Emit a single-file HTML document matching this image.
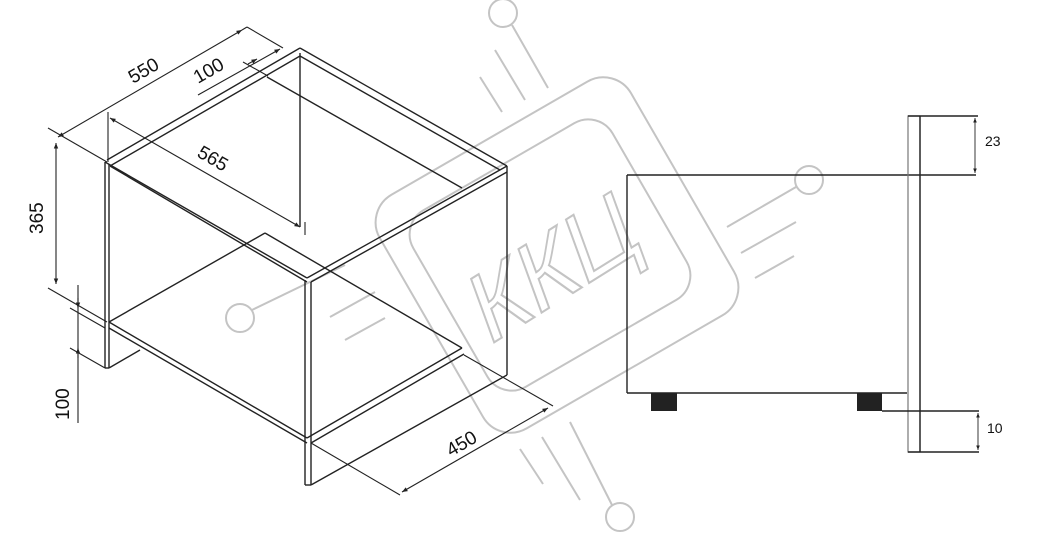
<!DOCTYPE html>
<html><head><meta charset="utf-8"><style>
html,body{margin:0;padding:0;background:#fff;}
svg{display:block;}
text{font-family:"Liberation Sans",Arial,sans-serif;}
</style></head><body>
<svg width="1050" height="533" viewBox="0 0 1050 533" xmlns="http://www.w3.org/2000/svg">
<defs>
<marker id="a" viewBox="0 0 10 10" refX="10" refY="5" markerWidth="7" markerHeight="5" orient="auto-start-reverse"><path d="M0,1 L10,5 L0,9 z" fill="#222"/></marker>
</defs>
<!-- watermark -->
<g stroke="#c4c4c4" stroke-width="2" fill="none">
<rect x="-145" y="-135" width="290" height="270" rx="32" transform="translate(557,255) rotate(-30)"/>
<rect x="-115" y="-102" width="230" height="204" rx="28" transform="translate(550,255) rotate(-30)"/>
<circle cx="503" cy="13" r="14"/><circle cx="809" cy="180" r="14"/><circle cx="620" cy="517" r="14"/><circle cx="240" cy="318" r="14"/>
<line x1="512" y1="25" x2="548" y2="88"/><line x1="495" y1="50" x2="525" y2="100"/><line x1="480" y1="77" x2="502" y2="112"/>
<line x1="796" y1="187" x2="727" y2="227"/><line x1="796" y1="222" x2="741" y2="253"/><line x1="794" y1="256" x2="755" y2="278"/>
<line x1="612" y1="505" x2="570" y2="422"/><line x1="580" y1="500" x2="542" y2="437"/><line x1="543" y1="484" x2="520" y2="449"/>
<line x1="252" y1="310" x2="345" y2="265"/><line x1="330" y1="317" x2="375" y2="292"/><line x1="345" y1="340" x2="385" y2="318"/>
<text x="0" y="0" font-size="96" fill="none" stroke="#c4c4c4" stroke-width="2" text-anchor="middle" transform="translate(565,298) rotate(-32) skewX(-12)">ККЦ</text>
</g>
<!-- cabinet -->
<g stroke="#222" stroke-width="1.4" fill="none">
<line x1="105" y1="162" x2="105" y2="368"/><line x1="109" y1="164" x2="109" y2="368"/>
<line x1="105" y1="368" x2="109" y2="368"/>
<line x1="107" y1="160" x2="300" y2="48"/><line x1="110" y1="166" x2="300" y2="56"/>
<line x1="105" y1="162" x2="307" y2="278"/><line x1="110" y1="166" x2="307" y2="282"/>
<line x1="300" y1="48" x2="507" y2="166"/><line x1="300" y1="56" x2="500" y2="170"/>
<line x1="307" y1="278" x2="507" y2="166"/><line x1="311" y1="282" x2="507" y2="172"/>
<line x1="507" y1="166" x2="507" y2="375"/>
<line x1="305" y1="280" x2="305" y2="485"/><line x1="311" y1="282" x2="311" y2="485"/>
<line x1="305" y1="485" x2="311" y2="485"/>
<line x1="311" y1="485" x2="507" y2="375"/>
<line x1="300" y1="53" x2="300" y2="227"/>
<line x1="267" y1="77" x2="462" y2="188"/>
<line x1="109" y1="322" x2="307" y2="438"/><line x1="109" y1="328" x2="307" y2="443"/>
<line x1="109" y1="322" x2="265" y2="233"/>
<line x1="265" y1="233" x2="462" y2="348"/>
<line x1="307" y1="438" x2="462" y2="348"/><line x1="311" y1="443" x2="464" y2="354"/>
<line x1="109" y1="368" x2="140" y2="350"/>
</g>
<!-- dims -->
<g stroke="#222" stroke-width="1.1" fill="none">
<line x1="48" y1="128" x2="107" y2="162"/>
<line x1="58" y1="137" x2="242" y2="30" marker-start="url(#a)" marker-end="url(#a)"/>
<line x1="242" y1="30" x2="247" y2="27"/>
<line x1="247" y1="27" x2="283" y2="48"/>
<line x1="198" y1="95" x2="280" y2="49" marker-end="url(#a)"/>
<line x1="243" y1="62" x2="268" y2="76"/>
<line x1="257" y1="59" x2="248" y2="64" marker-start="url(#a)"/>
<line x1="108" y1="112" x2="108" y2="162"/>
<line x1="110" y1="118" x2="300" y2="227" marker-start="url(#a)" marker-end="url(#a)"/>
<line x1="305" y1="222" x2="305" y2="235"/>
<line x1="56" y1="143" x2="56" y2="284" marker-start="url(#a)" marker-end="url(#a)"/>
<line x1="48" y1="288" x2="107" y2="322"/>
<line x1="70" y1="308" x2="105" y2="328"/>
<line x1="70" y1="348" x2="105" y2="368"/>
<line x1="78" y1="285" x2="78" y2="423"/>
<line x1="78" y1="298" x2="78" y2="308" marker-end="url(#a)"/>
<line x1="78" y1="358" x2="78" y2="348" marker-end="url(#a)"/>
<line x1="311" y1="443" x2="400" y2="495"/>
<line x1="464" y1="355" x2="553" y2="406"/>
<line x1="402" y1="492" x2="548" y2="408" marker-start="url(#a)" marker-end="url(#a)"/>
</g>
<g fill="#111" font-size="19">
<text transform="translate(133,84) rotate(-30)">550</text>
<text transform="translate(198,84) rotate(-30)">100</text>
<text transform="translate(196,156) rotate(30)">565</text>
<text transform="translate(43,234) rotate(-90)">365</text>
<text transform="translate(69,420) rotate(-90)">100</text>
<text transform="translate(451,457) rotate(-30)">450</text>
</g>
<!-- right side -->
<g stroke="#222" fill="none">
<line x1="627" y1="175" x2="976" y2="175" stroke-width="1.6"/>
<line x1="627" y1="175" x2="627" y2="393" stroke-width="1.4"/>
<line x1="627" y1="393" x2="907" y2="393" stroke-width="1.6"/>
<rect x="908" y="116" width="12" height="336" stroke="#777" stroke-width="1.2"/>
<line x1="920" y1="116" x2="920" y2="452" stroke-width="1.4"/>
<line x1="908" y1="116" x2="978" y2="116" stroke-width="1.6"/>
<line x1="908" y1="452" x2="979" y2="452" stroke-width="1.6"/>
<line x1="882" y1="411" x2="979" y2="411" stroke-width="1.6"/>
<line x1="975" y1="118" x2="975" y2="173" stroke-width="0.9" marker-start="url(#a)" marker-end="url(#a)"/>
<line x1="978" y1="413" x2="978" y2="450" stroke-width="0.9" marker-start="url(#a)" marker-end="url(#a)"/>
</g>
<rect x="651" y="393" width="26" height="18" fill="#222"/>
<rect x="857" y="393" width="25" height="18" fill="#222"/>
<text x="985" y="146" font-size="14" fill="#111">23</text>
<text x="987" y="433" font-size="14" fill="#111">10</text>
</svg>
</body></html>
